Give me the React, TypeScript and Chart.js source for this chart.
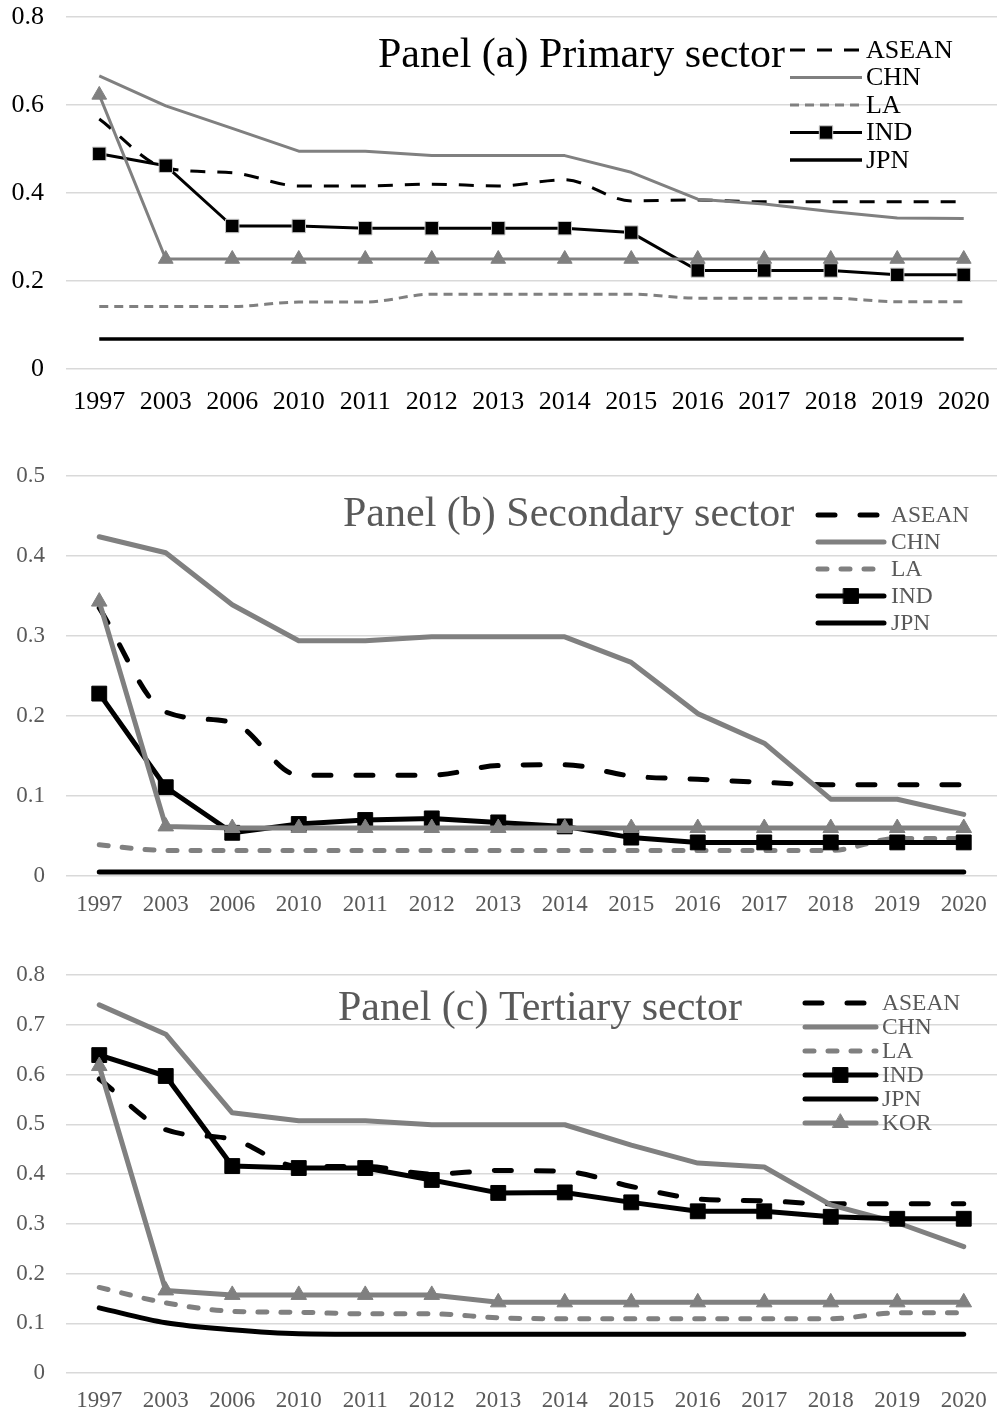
import React, { useEffect, useRef } from 'react';
import { Chart, registerables } from 'chart.js';

Chart.register(...registerables);

// ---------- data ----------
const YEARS = ['1997', '2003', '2006', '2010', '2011', '2012', '2013', '2014', '2015', '2016', '2017', '2018', '2019', '2020'];

// Panel (a) Primary sector
const A_ASEAN = [0.568, 0.457, 0.446, 0.416, 0.416, 0.42, 0.416, 0.43, 0.382, 0.384, 0.38, 0.38, 0.38, 0.38];
const A_CHN = [0.666, 0.598, 0.547, 0.495, 0.495, 0.485, 0.485, 0.485, 0.447, 0.386, 0.375, 0.358, 0.343, 0.342];
const A_LA = [0.142, 0.142, 0.142, 0.152, 0.152, 0.17, 0.17, 0.17, 0.17, 0.161, 0.161, 0.161, 0.153, 0.153];
const A_IND = [0.489, 0.462, 0.325, 0.325, 0.32, 0.32, 0.32, 0.32, 0.31, 0.224, 0.224, 0.224, 0.214, 0.214];
const A_JPN = [0.068, 0.068, 0.068, 0.068, 0.068, 0.068, 0.068, 0.068, 0.068, 0.068, 0.068, 0.068, 0.068, 0.068];
const A_KOR = [0.623, 0.25, 0.25, 0.25, 0.25, 0.25, 0.25, 0.25, 0.25, 0.25, 0.25, 0.25, 0.25, 0.25];

// Panel (b) Secondary sector
const B_ASEAN = [0.335, 0.205, 0.192, 0.126, 0.126, 0.126, 0.138, 0.139, 0.125, 0.121, 0.117, 0.114, 0.114, 0.114];
const B_CHN = [0.424, 0.404, 0.339, 0.294, 0.294, 0.299, 0.299, 0.299, 0.267, 0.203, 0.166, 0.096, 0.096, 0.077];
const B_LA = [0.039, 0.032, 0.032, 0.032, 0.032, 0.032, 0.032, 0.032, 0.032, 0.032, 0.032, 0.032, 0.047, 0.047];
const B_IND = [0.228, 0.111, 0.054, 0.065, 0.07, 0.072, 0.067, 0.062, 0.048, 0.042, 0.042, 0.042, 0.042, 0.042];
const B_JPN = [0.005, 0.005, 0.005, 0.005, 0.005, 0.005, 0.005, 0.005, 0.005, 0.005, 0.005, 0.005, 0.005, 0.005];
const B_KOR = [0.343, 0.062, 0.06, 0.06, 0.06, 0.06, 0.06, 0.06, 0.06, 0.06, 0.06, 0.06, 0.06, 0.06];

// Panel (c) Tertiary sector
const C_ASEAN = [0.591, 0.489, 0.47, 0.415, 0.415, 0.4, 0.407, 0.405, 0.375, 0.35, 0.346, 0.34, 0.34, 0.34];
const C_CHN = [0.74, 0.681, 0.523, 0.507, 0.507, 0.499, 0.499, 0.499, 0.458, 0.422, 0.414, 0.338, 0.302, 0.254];
const C_LA = [0.172, 0.141, 0.124, 0.122, 0.119, 0.119, 0.111, 0.109, 0.109, 0.109, 0.109, 0.109, 0.121, 0.121];
const C_IND = [0.639, 0.597, 0.416, 0.412, 0.412, 0.388, 0.362, 0.363, 0.343, 0.325, 0.325, 0.314, 0.31, 0.31];
const C_JPN = [0.131, 0.101, 0.087, 0.079, 0.078, 0.078, 0.078, 0.078, 0.078, 0.078, 0.078, 0.078, 0.078, 0.078];
const C_KOR = [0.617, 0.166, 0.157, 0.157, 0.157, 0.157, 0.142, 0.142, 0.142, 0.142, 0.142, 0.142, 0.142, 0.142];

const A_Y_TICKS = ['0', '0.2', '0.4', '0.6', '0.8'];
const B_Y_TICKS = ['0', '0.1', '0.2', '0.3', '0.4', '0.5'];
const C_Y_TICKS = ['0', '0.1', '0.2', '0.3', '0.4', '0.5', '0.6', '0.7', '0.8'];

const A_TITLE = 'Panel (a) Primary sector';
const B_TITLE = 'Panel (b) Secondary sector';
const C_TITLE = 'Panel (c) Tertiary sector';

const SERIES = ['ASEAN', 'CHN', 'LA', 'IND', 'JPN', 'KOR'];
const A_LEGEND = ['ASEAN', 'CHN', 'LA', 'IND', 'JPN'];
const B_LEGEND = ['ASEAN', 'CHN', 'LA', 'IND', 'JPN'];
const C_LEGEND = ['ASEAN', 'CHN', 'LA', 'IND', 'JPN', 'KOR'];

// ---------- styles ----------
const FONT = "'Liberation Serif', 'Times New Roman', serif";
const GRAY = '#808080';
const BLACK = '#000000';
const TEXT_GRAY = '#595959';
const GRID = '#d9d9d9';

type Style = {
  color: string;
  width: number;
  dash: number[];
  cap: CanvasLineCap;
  point: 'none' | 'rect' | 'triangle';
  pointR: number;
  smooth: boolean;
  pointBorder: string;
};

function stylesFor(thick: boolean): Record<string, Style> {
  const w = thick ? 5 : 3;
  const cap: CanvasLineCap = thick ? 'round' : 'butt';
  return {
    ASEAN: { color: BLACK, width: w, dash: thick ? [17, 25] : [15, 12], cap, point: 'none', pointR: 0, smooth: true, pointBorder: BLACK },
    CHN: { color: GRAY, width: w, dash: [], cap, point: 'none', pointR: 0, smooth: false, pointBorder: GRAY },
    LA: { color: GRAY, width: w, dash: thick ? [9, 14] : [9, 6], cap, point: 'none', pointR: 0, smooth: true, pointBorder: GRAY },
    IND: { color: BLACK, width: w, dash: [], cap, point: 'rect', pointR: thick ? 10.5 : 9.5, smooth: false, pointBorder: thick ? BLACK : '#c8c8c8' },
    JPN: { color: BLACK, width: thick ? 5 : 3.5, dash: [], cap, point: 'none', pointR: 0, smooth: true, pointBorder: BLACK },
    KOR: { color: GRAY, width: w, dash: [], cap, point: 'triangle', pointR: thick ? 9 : 8.5, smooth: false, pointBorder: GRAY },
  };
}

type PanelCfg = {
  top: number;
  height: number;
  padTop: number;
  axisH: number;
  yMax: number;
  step: number;
  yTicks: string[];
  tickSize: number;
  textColor: string;
  xPad: number;
  yPad: number;
  title: string;
  titleX: number;
  titleY: number;
  titleSize: number;
  legend: string[];
  lx1: number;
  lx2: number;
  textX: number;
  legendY: number;
  legendGap: number;
  legendSize: number;
  thick: boolean;
  values: number[][];
};

const PANELS: PanelCfg[] = [
  {
    top: 0, height: 440, padTop: 17, axisH: 71, yMax: 0.8, step: 0.2, yTicks: A_Y_TICKS,
    tickSize: 26, textColor: BLACK, xPad: 18, yPad: 22,
    title: A_TITLE, titleX: 378, titleY: 67, titleSize: 42,
    legend: A_LEGEND, lx1: 790, lx2: 862, textX: 866, legendY: 50, legendGap: 27.5, legendSize: 26,
    thick: false, values: [A_ASEAN, A_CHN, A_LA, A_IND, A_JPN, A_KOR],
  },
  {
    top: 440, height: 490, padTop: 36, axisH: 54, yMax: 0.5, step: 0.1, yTicks: B_Y_TICKS,
    tickSize: 23, textColor: TEXT_GRAY, xPad: 15, yPad: 21,
    title: B_TITLE, titleX: 343, titleY: 86, titleSize: 42,
    legend: B_LEGEND, lx1: 818, lx2: 884, textX: 891, legendY: 75, legendGap: 27, legendSize: 23.5,
    thick: true, values: [B_ASEAN, B_CHN, B_LA, B_IND, B_JPN, B_KOR],
  },
  {
    top: 930, height: 484, padTop: 45, axisH: 41, yMax: 0.8, step: 0.1, yTicks: C_Y_TICKS,
    tickSize: 23, textColor: TEXT_GRAY, xPad: 14, yPad: 21,
    title: C_TITLE, titleX: 338, titleY: 90, titleSize: 42,
    legend: C_LEGEND, lx1: 805, lx2: 876, textX: 882, legendY: 73, legendGap: 24, legendSize: 23.5,
    thick: true, values: [C_ASEAN, C_CHN, C_LA, C_IND, C_JPN, C_KOR],
  },
];

function drawMarker(ctx: CanvasRenderingContext2D, st: Style, x: number, y: number) {
  if (st.point === 'none') return;
  ctx.setLineDash([]);
  ctx.fillStyle = st.color;
  ctx.strokeStyle = st.pointBorder;
  ctx.lineWidth = 1;
  ctx.beginPath();
  if (st.point === 'rect') {
    const s = Math.SQRT1_2 * st.pointR;
    ctx.rect(x - s, y - s, 2 * s, 2 * s);
  } else {
    const r = st.pointR;
    for (let k = 0; k < 3; k++) {
      const a = (k * 2 * Math.PI) / 3;
      const px = x + Math.sin(a) * r;
      const py = y - Math.cos(a) * r;
      if (k === 0) ctx.moveTo(px, py);
      else ctx.lineTo(px, py);
    }
    ctx.closePath();
  }
  ctx.fill();
  ctx.stroke();
}

function Panel({ cfg }: { cfg: PanelCfg }) {
  const ref = useRef<HTMLCanvasElement>(null);
  useEffect(() => {
    const canvas = ref.current;
    if (!canvas) return;
    const styles = stylesFor(cfg.thick);
    const datasets = SERIES.map((name, idx) => {
      const st = styles[name];
      return {
        label: name,
        data: cfg.values[idx],
        borderColor: st.color,
        backgroundColor: st.color,
        borderWidth: st.width,
        borderDash: st.dash,
        borderCapStyle: st.cap,
        borderJoinStyle: 'round' as CanvasLineJoin,
        cubicInterpolationMode: st.smooth ? ('monotone' as const) : ('default' as const),
        tension: 0,
        pointStyle: st.point === 'none' ? 'circle' : st.point,
        pointRadius: st.point === 'none' ? 0 : st.pointR,
        pointHoverRadius: st.point === 'none' ? 0 : st.pointR,
        pointBackgroundColor: st.color,
        pointBorderColor: st.pointBorder,
        pointBorderWidth: 1,
        fill: false,
        clip: false,
        order: SERIES.length - 1 - idx,
      };
    });

    const overlay = {
      id: 'overlay',
      afterDraw(chart: Chart) {
        const ctx = chart.ctx;
        ctx.save();
        ctx.font = `${cfg.titleSize}px ${FONT}`;
        ctx.fillStyle = cfg.textColor;
        ctx.textAlign = 'left';
        ctx.textBaseline = 'alphabetic';
        ctx.fillText(cfg.title, cfg.titleX, cfg.titleY);
        cfg.legend.forEach((name, i) => {
          const st = styles[name];
          const y = cfg.legendY + i * cfg.legendGap;
          ctx.beginPath();
          ctx.setLineDash(st.dash);
          ctx.lineCap = st.cap;
          ctx.lineWidth = st.width;
          ctx.strokeStyle = st.color;
          ctx.moveTo(cfg.lx1, y);
          ctx.lineTo(cfg.lx2, y);
          ctx.stroke();
          drawMarker(ctx, st, (cfg.lx1 + cfg.lx2) / 2, y);
          ctx.setLineDash([]);
          ctx.font = `${cfg.legendSize}px ${FONT}`;
          ctx.fillStyle = cfg.textColor;
          ctx.textAlign = 'left';
          ctx.textBaseline = 'middle';
          ctx.fillText(name, cfg.textX, y + 1);
        });
        ctx.restore();
      },
    };

    const chart = new Chart(canvas, {
      type: 'line',
      data: { labels: YEARS, datasets: datasets as any },
      options: {
        responsive: false,
        animation: false,
        events: [],
        layout: { autoPadding: false, padding: { top: cfg.padTop, left: 0, right: 0, bottom: 0 } },
        plugins: {
          legend: { display: false },
          title: { display: false },
          tooltip: { enabled: false },
        },
        scales: {
          x: {
            offset: true,
            grid: { display: false, drawTicks: false },
            border: { display: false },
            ticks: {
              font: { family: FONT, size: cfg.tickSize },
              color: cfg.textColor,
              padding: cfg.xPad,
              maxRotation: 0,
              autoSkip: false,
            },
            afterFit: (s: any) => {
              s.height = cfg.axisH;
              s.paddingLeft = 0;
              s.paddingRight = 0;
            },
          },
          y: {
            min: 0,
            max: cfg.yMax,
            grid: { color: GRID, lineWidth: 1.5, drawTicks: false },
            border: { display: false },
            ticks: {
              stepSize: cfg.step,
              font: { family: FONT, size: cfg.tickSize },
              color: cfg.textColor,
              padding: cfg.yPad,
              callback: (v: any) => cfg.yTicks[Math.round(Number(v) / cfg.step)] ?? '',
            },
            afterFit: (s: any) => {
              s.width = 66;
              s.paddingTop = 0;
              s.paddingBottom = 0;
            },
          },
        },
      },
      plugins: [overlay],
    });
    return () => chart.destroy();
  }, [cfg]);

  return (
    <div style={{ position: 'absolute', left: 0, top: cfg.top, width: 997, height: cfg.height }}>
      <canvas ref={ref} width={997} height={cfg.height} style={{ display: 'block' }} />
    </div>
  );
}

export default function App() {
  return (
    <div style={{ position: 'absolute', left: 0, top: 0, width: 997, height: 1414, background: '#ffffff', overflow: 'hidden' }}>
      {PANELS.map((p, i) => (
        <Panel key={i} cfg={p} />
      ))}
    </div>
  );
}
